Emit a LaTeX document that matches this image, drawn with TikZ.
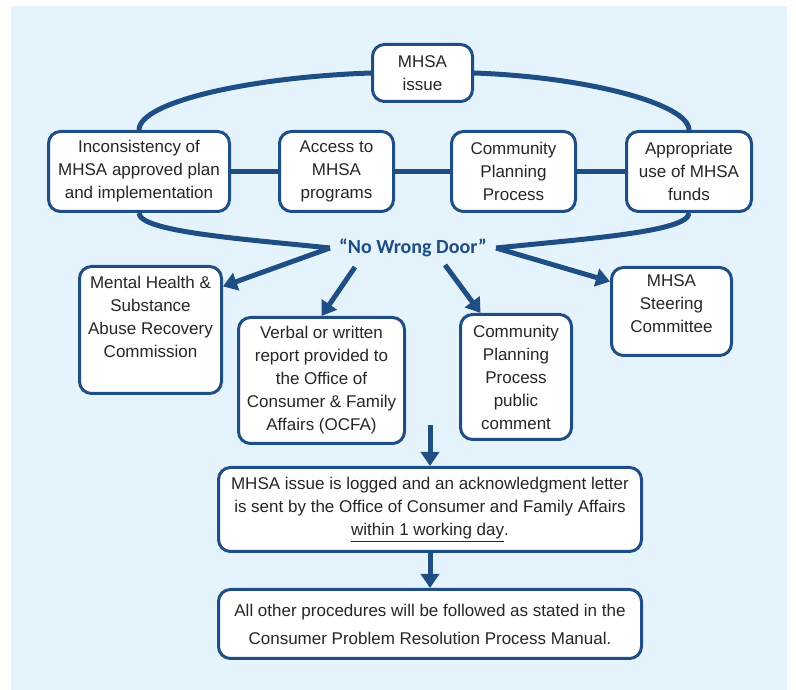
\documentclass[tikz,border=0pt]{standalone}
\usepackage{fontspec}
\setmainfont{Liberation Sans}
\newfontfamily\doorfont{Carlito}
\usetikzlibrary{positioning, calc, arrows.meta}
\definecolor{mhsablue}{HTML}{1F4E85}
\definecolor{panelblue}{HTML}{E5F4FC}
\definecolor{txtgray}{HTML}{262626}

\begin{document}
\begin{tikzpicture}[x=1pt, y=1pt, >={Triangle[length=14pt,width=18pt]},
    box/.style={draw=mhsablue, line width=3pt, rounded corners=12pt, fill=white,
        align=center, inner sep=2pt, text=txtgray, font=\fontsize{17}{23}\selectfont},
    link/.style={draw=mhsablue, line width=5pt},
    flow/.style={link, ->}]

    \useasboundingbox (0,0) rectangle (796,690);
    \fill[panelblue] (11,0) rectangle (787,684);

    % --- Top: the issue and its four kinds ---
    \node[box, minimum width=100, minimum height=57] (issue) at (422.5,617) {MHSA\\issue};
    \node[box, minimum width=181, minimum height=80] (incons) at (139,518.5)
        {Inconsistency of\\MHSA approved plan\\and implementation};
    \node[box, minimum width=114, minimum height=80] (access) at (336.5,518.5) {Access to\\MHSA\\programs};
    \node[box, minimum width=124, minimum height=80] (cpp) at (513.5,518.5) {Community\\Planning\\Process};
    \node[box, minimum width=125, minimum height=80] (funds) at (689,518.5) {Appropriate\\use of MHSA\\funds};

    \node[font=\doorfont\bfseries\fontsize{20}{24}\selectfont, text=mhsablue, inner xsep=9pt] (door)
        at (413,442) {“No Wrong Door”};

    % --- The loop round the four kinds ---
    \draw[link] (incons.north) to[out=90, in=182, out looseness=0.3, in looseness=1.3] (issue.west);
    \draw[link] (issue.east) to[out=-2, in=90, out looseness=1.3, in looseness=0.3] (funds.north);
    \draw[link] (incons.south) to[out=-90, in=174, out looseness=0.25, in looseness=1.1] (door.west);
    \draw[link] (funds.south) to[out=-90, in=6, out looseness=0.25, in looseness=1.1] (door.east);
    \draw[link] (incons.east) -- (access.west);
    \draw[link] (access.east) -- (cpp.west);
    \draw[link] (cpp.east) -- (funds.west);

    % --- Where an issue can be raised ---
    \node[box, minimum width=142, minimum height=127] (mhrc) at (150.5,360)
        {\parbox[c][107pt][t]{136pt}{\centering Mental Health \&\\Substance\\Abuse Recovery\\Commission}};
    \node[box, minimum width=166, minimum height=126] (verbal) at (321.5,309.5)
        {Verbal or written\\report provided to\\the Office of\\Consumer \& Family\\Affairs (OCFA)};
    \node[box, minimum width=111, minimum height=125] (cppc) at (516,313)
        {Community\\Planning\\Process\\public\\comment};
    \node[box, minimum width=120, minimum height=88] (steer) at (671.5,378.5)
        {\parbox[c][73pt][t]{114pt}{\centering MHSA\\Steering\\Committee}};

    \coordinate (vstart) at (355,423);
    \coordinate (pstart) at (445,425);
    \draw[flow] (door.west) -- (mhrc.31);
    \draw[flow] (vstart) -- (verbal.north);
    \draw[flow] (pstart) -- (cppc.119);
    \draw[flow] (door.east) -- (steer.154);

    % --- Logging and follow-up ---
    \node[box, minimum width=423, minimum height=84] (ack) at (430,180.5)
        {MHSA issue is logged and an acknowledgment letter\\is sent by the Office of Consumer and Family Affairs\\\underline{within 1 working day}.};
    \node[box, minimum width=423, minimum height=69, font=\fontsize{17}{28}\selectfont] (final) at (430,66)
        {All other procedures will be followed as stated in the\\Consumer Problem Resolution Process Manual.};

    \coordinate (gap) at (430,265);
    \draw[flow] (gap) -- (ack.north);
    \draw[flow] (ack.south) -- (final.north);

\end{tikzpicture}
\end{document}
